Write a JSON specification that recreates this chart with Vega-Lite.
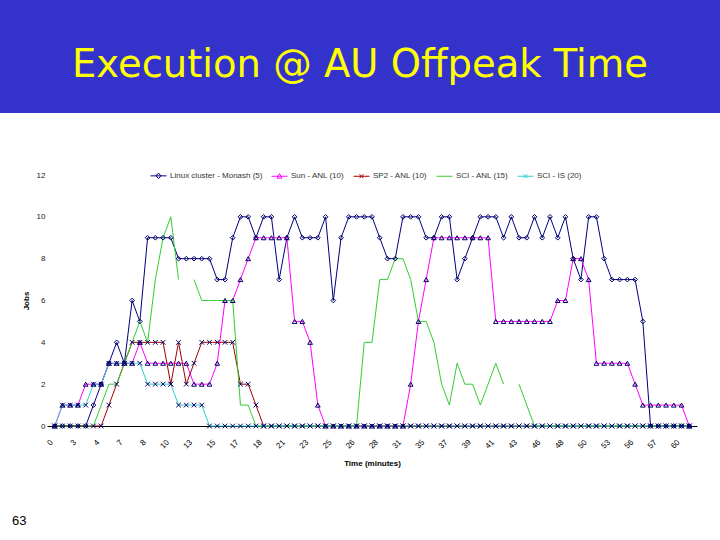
{
  "$schema": "https://vega.github.io/schema/vega-lite/v6.json",
  "padding": 0,
  "background": "white",
  "spacing": 62,
  "bounds": "flush",
  "config": {"view": {"stroke": null}, "font": "Liberation Sans"},
  "title": {"text": "63", "orient": "bottom", "anchor": "start", "fontSize": 13, "fontWeight": "normal", "font": "Liberation Sans", "color": "#000000", "offset": 47, "dx": 12},
  "vconcat": [
    {
      "width": 720,
      "height": 113,
      "view": {"fill": "#3333cc", "stroke": null},
      "data": {"values": [{"title": "Execution @ AU Offpeak Time"}]},
      "mark": {"type": "text", "color": "#ffff00", "fontSize": 38.5, "font": "DejaVu Sans", "baseline": "alphabetic", "dy": 20},
      "encoding": {"text": {"field": "title"}}
    },
    {
      "bounds": "flush",
      "spacing": 0,
      "hconcat": [
        {
          "width": 47,
          "height": 251,
          "data": {"values": []},
          "mark": {"type": "point", "opacity": 0}
        },
        {
          "width": 650,
          "height": 251,
          "data": {"values": [
{"s":"L","i":0,"v":0},{"s":"L","i":1,"v":0},{"s":"L","i":2,"v":0},{"s":"L","i":3,"v":0},{"s":"L","i":4,"v":0},{"s":"L","i":5,"v":1},{"s":"L","i":6,"v":2},{"s":"L","i":7,"v":3},{"s":"L","i":8,"v":4},{"s":"L","i":9,"v":3},{"s":"L","i":10,"v":6},{"s":"L","i":11,"v":5},{"s":"L","i":12,"v":9},{"s":"L","i":13,"v":9},{"s":"L","i":14,"v":9},{"s":"L","i":15,"v":9},{"s":"L","i":16,"v":8},{"s":"L","i":17,"v":8},{"s":"L","i":18,"v":8},{"s":"L","i":19,"v":8},{"s":"L","i":20,"v":8},{"s":"L","i":21,"v":7},{"s":"L","i":22,"v":7},{"s":"L","i":23,"v":9},{"s":"L","i":24,"v":10},{"s":"L","i":25,"v":10},{"s":"L","i":26,"v":9},{"s":"L","i":27,"v":10},{"s":"L","i":28,"v":10},{"s":"L","i":29,"v":7},{"s":"L","i":30,"v":9},{"s":"L","i":31,"v":10},{"s":"L","i":32,"v":9},{"s":"L","i":33,"v":9},{"s":"L","i":34,"v":9},{"s":"L","i":35,"v":10},{"s":"L","i":36,"v":6},{"s":"L","i":37,"v":9},{"s":"L","i":38,"v":10},{"s":"L","i":39,"v":10},{"s":"L","i":40,"v":10},{"s":"L","i":41,"v":10},{"s":"L","i":42,"v":9},{"s":"L","i":43,"v":8},{"s":"L","i":44,"v":8},{"s":"L","i":45,"v":10},{"s":"L","i":46,"v":10},{"s":"L","i":47,"v":10},{"s":"L","i":48,"v":9},{"s":"L","i":49,"v":9},{"s":"L","i":50,"v":10},{"s":"L","i":51,"v":10},{"s":"L","i":52,"v":7},{"s":"L","i":53,"v":8},{"s":"L","i":54,"v":9},{"s":"L","i":55,"v":10},{"s":"L","i":56,"v":10},{"s":"L","i":57,"v":10},{"s":"L","i":58,"v":9},{"s":"L","i":59,"v":10},{"s":"L","i":60,"v":9},{"s":"L","i":61,"v":9},{"s":"L","i":62,"v":10},{"s":"L","i":63,"v":9},{"s":"L","i":64,"v":10},{"s":"L","i":65,"v":9},{"s":"L","i":66,"v":10},{"s":"L","i":67,"v":8},{"s":"L","i":68,"v":7},{"s":"L","i":69,"v":10},{"s":"L","i":70,"v":10},{"s":"L","i":71,"v":8},{"s":"L","i":72,"v":7},{"s":"L","i":73,"v":7},{"s":"L","i":74,"v":7},{"s":"L","i":75,"v":7},{"s":"L","i":76,"v":5},{"s":"L","i":77,"v":0},{"s":"L","i":78,"v":0},{"s":"L","i":79,"v":0},{"s":"L","i":80,"v":0},{"s":"L","i":81,"v":0},{"s":"L","i":82,"v":0},
{"s":"S","i":0,"v":0},{"s":"S","i":1,"v":1},{"s":"S","i":2,"v":1},{"s":"S","i":3,"v":1},{"s":"S","i":4,"v":2},{"s":"S","i":5,"v":2},{"s":"S","i":6,"v":2},{"s":"S","i":7,"v":3},{"s":"S","i":8,"v":3},{"s":"S","i":9,"v":3},{"s":"S","i":10,"v":3},{"s":"S","i":11,"v":4},{"s":"S","i":12,"v":3},{"s":"S","i":13,"v":3},{"s":"S","i":14,"v":3},{"s":"S","i":15,"v":3},{"s":"S","i":16,"v":3},{"s":"S","i":17,"v":3},{"s":"S","i":18,"v":2},{"s":"S","i":19,"v":2},{"s":"S","i":20,"v":2},{"s":"S","i":21,"v":3},{"s":"S","i":22,"v":6},{"s":"S","i":23,"v":6},{"s":"S","i":24,"v":7},{"s":"S","i":25,"v":8},{"s":"S","i":26,"v":9},{"s":"S","i":27,"v":9},{"s":"S","i":28,"v":9},{"s":"S","i":29,"v":9},{"s":"S","i":30,"v":9},{"s":"S","i":31,"v":5},{"s":"S","i":32,"v":5},{"s":"S","i":33,"v":4},{"s":"S","i":34,"v":1},{"s":"S","i":35,"v":0},{"s":"S","i":36,"v":0},{"s":"S","i":37,"v":0},{"s":"S","i":38,"v":0},{"s":"S","i":39,"v":0},{"s":"S","i":40,"v":0},{"s":"S","i":41,"v":0},{"s":"S","i":42,"v":0},{"s":"S","i":43,"v":0},{"s":"S","i":44,"v":0},{"s":"S","i":45,"v":0},{"s":"S","i":46,"v":2},{"s":"S","i":47,"v":5},{"s":"S","i":48,"v":7},{"s":"S","i":49,"v":9},{"s":"S","i":50,"v":9},{"s":"S","i":51,"v":9},{"s":"S","i":52,"v":9},{"s":"S","i":53,"v":9},{"s":"S","i":54,"v":9},{"s":"S","i":55,"v":9},{"s":"S","i":56,"v":9},{"s":"S","i":57,"v":5},{"s":"S","i":58,"v":5},{"s":"S","i":59,"v":5},{"s":"S","i":60,"v":5},{"s":"S","i":61,"v":5},{"s":"S","i":62,"v":5},{"s":"S","i":63,"v":5},{"s":"S","i":64,"v":5},{"s":"S","i":65,"v":6},{"s":"S","i":66,"v":6},{"s":"S","i":67,"v":8},{"s":"S","i":68,"v":8},{"s":"S","i":69,"v":7},{"s":"S","i":70,"v":3},{"s":"S","i":71,"v":3},{"s":"S","i":72,"v":3},{"s":"S","i":73,"v":3},{"s":"S","i":74,"v":3},{"s":"S","i":75,"v":2},{"s":"S","i":76,"v":1},{"s":"S","i":77,"v":1},{"s":"S","i":78,"v":1},{"s":"S","i":79,"v":1},{"s":"S","i":80,"v":1},{"s":"S","i":81,"v":1},{"s":"S","i":82,"v":0},
{"s":"P","i":0,"v":0},{"s":"P","i":1,"v":0},{"s":"P","i":2,"v":0},{"s":"P","i":3,"v":0},{"s":"P","i":4,"v":0},{"s":"P","i":5,"v":0},{"s":"P","i":6,"v":0},{"s":"P","i":7,"v":1},{"s":"P","i":8,"v":2},{"s":"P","i":9,"v":3},{"s":"P","i":10,"v":4},{"s":"P","i":11,"v":4},{"s":"P","i":12,"v":4},{"s":"P","i":13,"v":4},{"s":"P","i":14,"v":4},{"s":"P","i":15,"v":2},{"s":"P","i":16,"v":4},{"s":"P","i":17,"v":2},{"s":"P","i":18,"v":3},{"s":"P","i":19,"v":4},{"s":"P","i":20,"v":4},{"s":"P","i":21,"v":4},{"s":"P","i":22,"v":4},{"s":"P","i":23,"v":4},{"s":"P","i":24,"v":2},{"s":"P","i":25,"v":2},{"s":"P","i":26,"v":1},{"s":"P","i":27,"v":0},{"s":"P","i":28,"v":0},{"s":"P","i":29,"v":0},{"s":"P","i":30,"v":0},{"s":"P","i":31,"v":0},{"s":"P","i":32,"v":0},{"s":"P","i":33,"v":0},{"s":"P","i":34,"v":0},{"s":"P","i":35,"v":0},{"s":"P","i":36,"v":0},{"s":"P","i":37,"v":0},{"s":"P","i":38,"v":0},{"s":"P","i":39,"v":0},{"s":"P","i":40,"v":0},{"s":"P","i":41,"v":0},{"s":"P","i":42,"v":0},{"s":"P","i":43,"v":0},{"s":"P","i":44,"v":0},{"s":"P","i":45,"v":0},{"s":"P","i":46,"v":0},{"s":"P","i":47,"v":0},{"s":"P","i":48,"v":0},{"s":"P","i":49,"v":0},{"s":"P","i":50,"v":0},{"s":"P","i":51,"v":0},{"s":"P","i":52,"v":0},{"s":"P","i":53,"v":0},{"s":"P","i":54,"v":0},{"s":"P","i":55,"v":0},{"s":"P","i":56,"v":0},{"s":"P","i":57,"v":0},{"s":"P","i":58,"v":0},{"s":"P","i":59,"v":0},{"s":"P","i":60,"v":0},{"s":"P","i":61,"v":0},{"s":"P","i":62,"v":0},{"s":"P","i":63,"v":0},{"s":"P","i":64,"v":0},{"s":"P","i":65,"v":0},{"s":"P","i":66,"v":0},{"s":"P","i":67,"v":0},{"s":"P","i":68,"v":0},{"s":"P","i":69,"v":0},{"s":"P","i":70,"v":0},{"s":"P","i":71,"v":0},{"s":"P","i":72,"v":0},{"s":"P","i":73,"v":0},{"s":"P","i":74,"v":0},{"s":"P","i":75,"v":0},{"s":"P","i":76,"v":0},{"s":"P","i":77,"v":0},{"s":"P","i":78,"v":0},{"s":"P","i":79,"v":0},{"s":"P","i":80,"v":0},{"s":"P","i":81,"v":0},{"s":"P","i":82,"v":0},
{"s":"G","i":0,"v":0},{"s":"G","i":1,"v":0},{"s":"G","i":2,"v":0},{"s":"G","i":3,"v":0},{"s":"G","i":4,"v":0},{"s":"G","i":5,"v":0},{"s":"G","i":6,"v":1},{"s":"G","i":7,"v":2},{"s":"G","i":8,"v":2},{"s":"G","i":9,"v":3},{"s":"G","i":10,"v":4},{"s":"G","i":11,"v":5},{"s":"G","i":12,"v":4},{"s":"G","i":13,"v":7},{"s":"G","i":14,"v":9},{"s":"G","i":15,"v":10},{"s":"G","i":16,"v":7},{"s":"G","i":17,"v":null},{"s":"G","i":18,"v":7},{"s":"G","i":19,"v":6},{"s":"G","i":20,"v":6},{"s":"G","i":21,"v":6},{"s":"G","i":22,"v":6},{"s":"G","i":23,"v":6},{"s":"G","i":24,"v":1},{"s":"G","i":25,"v":1},{"s":"G","i":26,"v":0},{"s":"G","i":27,"v":0},{"s":"G","i":28,"v":0},{"s":"G","i":29,"v":0},{"s":"G","i":30,"v":0},{"s":"G","i":31,"v":0},{"s":"G","i":32,"v":0},{"s":"G","i":33,"v":0},{"s":"G","i":34,"v":0},{"s":"G","i":35,"v":0},{"s":"G","i":36,"v":0},{"s":"G","i":37,"v":0},{"s":"G","i":38,"v":0},{"s":"G","i":39,"v":0},{"s":"G","i":40,"v":4},{"s":"G","i":41,"v":4},{"s":"G","i":42,"v":7},{"s":"G","i":43,"v":7},{"s":"G","i":44,"v":8},{"s":"G","i":45,"v":8},{"s":"G","i":46,"v":7},{"s":"G","i":47,"v":5},{"s":"G","i":48,"v":5},{"s":"G","i":49,"v":4},{"s":"G","i":50,"v":2},{"s":"G","i":51,"v":1},{"s":"G","i":52,"v":3},{"s":"G","i":53,"v":2},{"s":"G","i":54,"v":2},{"s":"G","i":55,"v":1},{"s":"G","i":56,"v":2},{"s":"G","i":57,"v":3},{"s":"G","i":58,"v":2},{"s":"G","i":59,"v":null},{"s":"G","i":60,"v":2},{"s":"G","i":61,"v":1},{"s":"G","i":62,"v":0},{"s":"G","i":63,"v":0},{"s":"G","i":64,"v":0},{"s":"G","i":65,"v":0},{"s":"G","i":66,"v":0},{"s":"G","i":67,"v":0},{"s":"G","i":68,"v":0},{"s":"G","i":69,"v":0},{"s":"G","i":70,"v":0},{"s":"G","i":71,"v":0},{"s":"G","i":72,"v":0},{"s":"G","i":73,"v":0},{"s":"G","i":74,"v":0},{"s":"G","i":75,"v":0},{"s":"G","i":76,"v":0},{"s":"G","i":77,"v":0},{"s":"G","i":78,"v":0},{"s":"G","i":79,"v":0},{"s":"G","i":80,"v":0},{"s":"G","i":81,"v":0},{"s":"G","i":82,"v":0},
{"s":"C","i":0,"v":0},{"s":"C","i":1,"v":1},{"s":"C","i":2,"v":1},{"s":"C","i":3,"v":1},{"s":"C","i":4,"v":1},{"s":"C","i":5,"v":2},{"s":"C","i":6,"v":2},{"s":"C","i":7,"v":3},{"s":"C","i":8,"v":3},{"s":"C","i":9,"v":3},{"s":"C","i":10,"v":3},{"s":"C","i":11,"v":3},{"s":"C","i":12,"v":2},{"s":"C","i":13,"v":2},{"s":"C","i":14,"v":2},{"s":"C","i":15,"v":2},{"s":"C","i":16,"v":1},{"s":"C","i":17,"v":1},{"s":"C","i":18,"v":1},{"s":"C","i":19,"v":1},{"s":"C","i":20,"v":0},{"s":"C","i":21,"v":0},{"s":"C","i":22,"v":0},{"s":"C","i":23,"v":0},{"s":"C","i":24,"v":0},{"s":"C","i":25,"v":0},{"s":"C","i":26,"v":0},{"s":"C","i":27,"v":0},{"s":"C","i":28,"v":0},{"s":"C","i":29,"v":0},{"s":"C","i":30,"v":0},{"s":"C","i":31,"v":0},{"s":"C","i":32,"v":0},{"s":"C","i":33,"v":0},{"s":"C","i":34,"v":0},{"s":"C","i":35,"v":0},{"s":"C","i":36,"v":0},{"s":"C","i":37,"v":0},{"s":"C","i":38,"v":0},{"s":"C","i":39,"v":0},{"s":"C","i":40,"v":0},{"s":"C","i":41,"v":0},{"s":"C","i":42,"v":0},{"s":"C","i":43,"v":0},{"s":"C","i":44,"v":0},{"s":"C","i":45,"v":0},{"s":"C","i":46,"v":0},{"s":"C","i":47,"v":0},{"s":"C","i":48,"v":0},{"s":"C","i":49,"v":0},{"s":"C","i":50,"v":0},{"s":"C","i":51,"v":0},{"s":"C","i":52,"v":0},{"s":"C","i":53,"v":0},{"s":"C","i":54,"v":0},{"s":"C","i":55,"v":0},{"s":"C","i":56,"v":0},{"s":"C","i":57,"v":0},{"s":"C","i":58,"v":0},{"s":"C","i":59,"v":0},{"s":"C","i":60,"v":0},{"s":"C","i":61,"v":0},{"s":"C","i":62,"v":0},{"s":"C","i":63,"v":0},{"s":"C","i":64,"v":0},{"s":"C","i":65,"v":0},{"s":"C","i":66,"v":0},{"s":"C","i":67,"v":0},{"s":"C","i":68,"v":0},{"s":"C","i":69,"v":0},{"s":"C","i":70,"v":0},{"s":"C","i":71,"v":0},{"s":"C","i":72,"v":0},{"s":"C","i":73,"v":0},{"s":"C","i":74,"v":0},{"s":"C","i":75,"v":0},{"s":"C","i":76,"v":0},{"s":"C","i":77,"v":0},{"s":"C","i":78,"v":0},{"s":"C","i":79,"v":0},{"s":"C","i":80,"v":0},{"s":"C","i":81,"v":0},{"s":"C","i":82,"v":0}
          ]},
          "encoding": {
            "x": {
              "field": "i", "type": "ordinal",
              "scale": {"type": "point", "padding": 1.5},
              "axis": {
                "values": [0,3,6,9,12,15,18,21,24,27,30,33,36,39,42,45,48,51,54,57,60,63,66,69,72,75,78,81],
                "labelExpr": "['0','3','4','7','8','10','13','15','17','18','21','23','25','26','28','31','35','37','39','41','43','46','48','50','53','56','57','60'][datum.value / 3]",
                "labelAngle": -45, "labelFontSize": 8, "labelColor": "#000000", "labelPadding": 12, "labelOffset": -6,
                "ticks": false, "grid": false, "domain": true, "domainColor": "#000000", "domainWidth": 1,
                "title": "Time (minutes)", "titleFontSize": 8, "titleFontWeight": "bold", "titleColor": "#000000", "titlePadding": 10
              }
            },
            "y": {
              "field": "v", "type": "quantitative",
              "scale": {"domain": [0, 12], "nice": false},
              "axis": {
                "values": [0,2,4,6,8,10,12],
                "labelFontSize": 8, "labelColor": "#222222", "labelPadding": 2,
                "ticks": false, "grid": false, "domain": false,
                "title": "Jobs", "titleFontSize": 8, "titleFontWeight": "bold", "titleColor": "#000000", "titlePadding": 6
              }
            }
          },
          "layer": [
            {
              "mark": {"type": "line", "strokeWidth": 1, "invalid": "break-paths-filter-domains"},
              "encoding": {
                "color": {
                  "field": "s", "type": "nominal",
                  "scale": {"domain": ["L","S","P","G","C"], "range": ["#000080","#ff00ff","#a00000","#33cc33","#33cccc"]},
                  "legend": {
                    "orient": "none", "legendX": 150, "legendY": 167, "direction": "horizontal", "title": null,
                    "labelFontSize": 8, "labelColor": "#333333", "labelOffset": 3, "columnPadding": 6,
                    "symbolSize": 256, "symbolStrokeWidth": 1,
                    "labelExpr": "['Linux cluster - Monash (5)','Sun - ANL (10)','SP2 - ANL (10)','SCI - ANL (15)','SCI - IS (20)'][indexof(['L','S','P','G','C'], datum.value)]",
                    "encode": {
                      "symbols": {
                        "update": {
                          "shape": {"signal": "['M-1,0L1,0M0,-0.35L0.3,0L0,0.35L-0.3,0Z','M-1,0L1,0M0,-0.32L0.3,0.24L-0.3,0.24Z','M-1,0L1,0M-0.25,-0.25L0.25,0.25M-0.25,0.25L0.25,-0.25','M-1,0L1,0','M-1,0L1,0M-0.25,-0.25L0.25,0.25M-0.25,0.25L0.25,-0.25'][indexof(['L','S','P','G','C'], datum.value)]"},
                          "fill": {"value": "transparent"}
                        }
                      }
                    }
                  }
                }
              }
            },
            {
              "transform": [{"filter": "datum.s != 'G' && isValid(datum.v)"}],
              "mark": {"type": "point", "filled": false, "strokeWidth": 1, "size": 22, "color": "#000066", "opacity": 1},
              "encoding": {
                "shape": {
                  "field": "s", "type": "nominal",
                  "scale": {"domain": ["L","S","P","C"], "range": ["diamond","triangle-up","M-1,-1L1,1M-1,1L1,-1","M-1,-1L1,1M-1,1L1,-1"]},
                  "legend": null
                }
              }
            }
          ]
        }
      ]
    }
  ]
}
